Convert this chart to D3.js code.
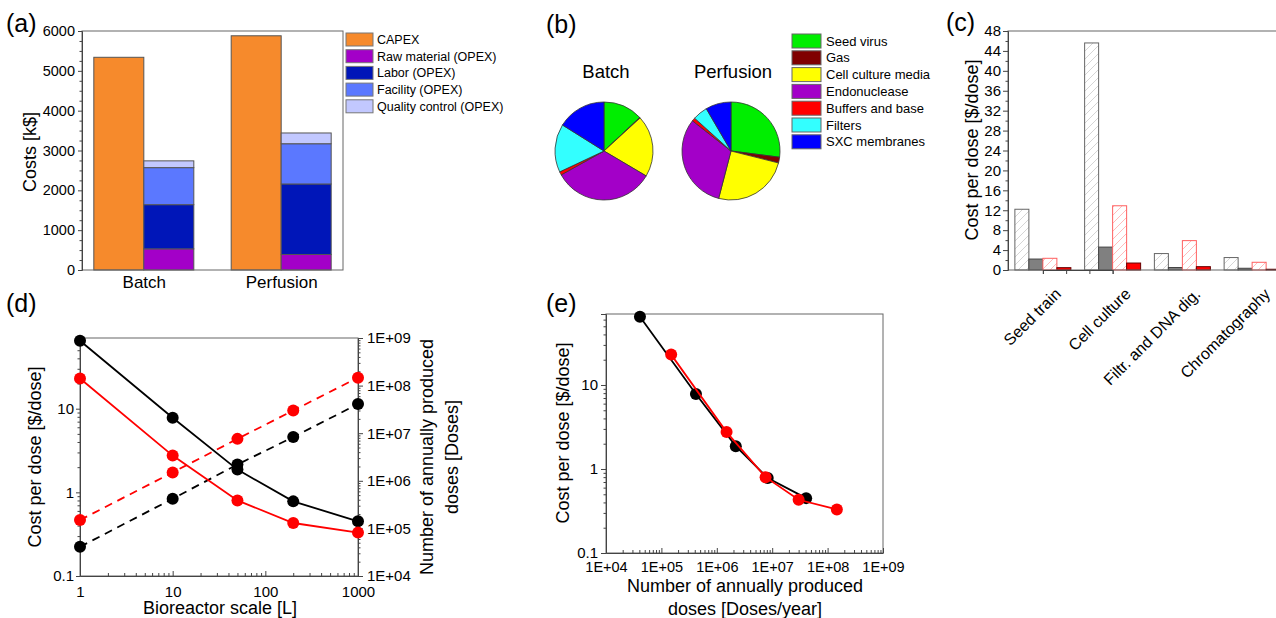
<!DOCTYPE html>
<html>
<head>
<meta charset="utf-8">
<script src="https://cdn.jsdelivr.net/npm/d3@7"></script>
<style>
html, body { margin: 0; padding: 0; background: #fff; overflow: hidden; }
svg { display: block; font-family: "Liberation Sans", Arial, sans-serif; }
</style>
</head>
<body>
<svg id="fig" width="1276" height="618"></svg>
<script>
// (a) costs [k$]
const costCategories = ['Batch', 'Perfusion'];
const capex = [5340, 5880];
const rawMaterial = [530, 390];
const labor = [1110, 1770];
const facility = [930, 1010];
const qualityControl = [170, 270];
const costLabels = ['CAPEX', 'Raw material (OPEX)', 'Labor (OPEX)', 'Facility (OPEX)', 'Quality control (OPEX)'];
const costTicks = [0, 1000, 2000, 3000, 4000, 5000, 6000];

// (b) raw material cost shares [%]
const rawItems = ['Seed virus', 'Gas', 'Cell culture media', 'Endonuclease', 'Buffers and base', 'Filters', 'SXC membranes'];
const batchShares = [13.0, 0.2, 20.3, 33.4, 1.1, 15.9, 16.1];
const perfusionShares = [27.0, 1.9, 25.1, 31.5, 1.1, 4.9, 8.4];

// (c) cost per dose per step [$/dose]
const stepCategories = ['Seed train', 'Cell culture', 'Filtr. and DNA dig.', 'Chromatography'];
const batchStepA = [12.2, 45.6, 3.3, 2.5];
const batchStepB = [2.2, 4.6, 0.5, 0.35];
const perfusionStepA = [2.35, 12.9, 5.9, 1.55];
const perfusionStepB = [0.47, 1.4, 0.67, 0.15];
const stepTicks = [0, 4, 8, 12, 16, 20, 24, 28, 32, 36, 40, 44, 48];

// (d), (e) scale-up
const reactorScale = [1, 10, 50, 200, 1000];
const batchCost = [65, 7.8, 1.87, 0.78, 0.45];
const perfusionCost = [23, 2.75, 0.80, 0.43, 0.33];
const batchDoses = [4.1e4, 4.2e5, 2.2e6, 8.3e6, 4.1e7];
const perfusionDoses = [1.5e5, 1.5e6, 7.6e6, 3.0e7, 1.47e8];

const costColors = ['#f68a2c', '#a300c8', '#0016b8', '#5b78ff', '#c2c8ff'];
const pieColors = ['#00ee00', '#800000', '#ffff00', '#a300c8', '#ff0000', '#33ffff', '#0000ff'];
const AXIS = '#444';
const FRAME = '#666';

const svg = d3.select('#fig');
const defs = svg.append('defs');

function panelLabel(text, x, y) {
  svg.append('text').attr('x', x).attr('y', y).attr('font-size', 25).text(text);
}

function styleAxis(g, size) {
  g.attr('font-family', null).attr('font-size', size);
  g.select('.domain').attr('stroke', AXIS);
  g.selectAll('.tick line').attr('stroke', AXIS);
  g.selectAll('.tick text').attr('fill', '#000');
  return g;
}

function minorAxis(axis, g, values, size) {
  g.call(axis.tickValues(values).tickSize(size).tickFormat(''));
  g.select('.domain').remove();
  g.selectAll('.tick line').attr('stroke', AXIS);
}

function logMinors(lo, hi) {
  const out = [];
  for (let e = Math.floor(Math.log10(lo)); e <= Math.ceil(Math.log10(hi)); e++) {
    for (let k = 2; k <= 9; k++) {
      const v = k * Math.pow(10, e);
      if (v >= lo && v <= hi) out.push(v);
    }
  }
  return out;
}

function rotatedTitle(text, x, y, size) {
  svg.append('text')
    .attr('transform', `translate(${x},${y}) rotate(-90)`)
    .attr('text-anchor', 'middle')
    .attr('font-size', size)
    .text(text);
}

function frame(L, R, T, B) {
  svg.append('rect').attr('x', L).attr('y', T).attr('width', R - L).attr('height', B - T)
    .attr('fill', 'none').attr('stroke', FRAME).attr('stroke-width', 1);
}

function drawCosts() {
  const L = 82, R = 343, T = 31, B = 270;
  const x = d3.scalePoint().domain(costCategories).range([L, R]).padding(0.45);
  const y = d3.scaleLinear().domain([0, 6000]).range([B, T]);
  const barW = 50;
  const g = svg.append('g');

  g.selectAll('rect.capex')
    .data(costCategories)
    .join('rect')
    .attr('class', 'capex')
    .attr('x', d => x(d) - barW)
    .attr('y', (d, i) => y(capex[i]))
    .attr('width', barW)
    .attr('height', (d, i) => y(0) - y(capex[i]))
    .attr('fill', costColors[0])
    .attr('stroke', '#555');

  const rows = costCategories.map((c, i) => ({
    cat: c, raw: rawMaterial[i], labor: labor[i], facility: facility[i], qc: qualityControl[i]
  }));
  const layers = d3.stack().keys(['raw', 'labor', 'facility', 'qc'])(rows);
  layers.forEach((layer, k) => {
    g.selectAll(`rect.opex${k}`)
      .data(layer)
      .join('rect')
      .attr('class', `opex${k}`)
      .attr('x', d => x(d.data.cat))
      .attr('y', d => y(d[1]))
      .attr('width', barW)
      .attr('height', d => y(d[0]) - y(d[1]))
      .attr('fill', costColors[k + 1])
      .attr('stroke', '#555');
  });

  frame(L, R, T, B);
  const ya = svg.append('g').attr('transform', `translate(${L},0)`);
  minorAxis(d3.axisLeft(y), ya, d3.range(0, 6001, 250).filter(v => v % 1000), 2.5);
  const yg = svg.append('g').attr('transform', `translate(${L},0)`)
    .call(d3.axisLeft(y).tickValues(costTicks).tickSize(4).tickPadding(3).tickFormat(d3.format('d')));
  styleAxis(yg, 14.5);
  const xg = svg.append('g').attr('transform', `translate(0,${B})`)
    .call(d3.axisBottom(x).tickSize(0).tickPadding(6));
  styleAxis(xg, 17);
  xg.select('.domain').remove();
  rotatedTitle('Costs [k$]', 36, 152, 18);

  const leg = svg.append('g');
  costLabels.forEach((label, i) => {
    const top = 33 + i * 16.7;
    leg.append('rect').attr('x', 346).attr('y', top).attr('width', 27).attr('height', 13)
      .attr('fill', costColors[i]).attr('stroke', '#777');
    leg.append('text').attr('x', 377).attr('y', top + 11).attr('font-size', 12.5).text(label);
  });
  panelLabel('(a)', 6, 32);
}

function drawPies() {
  const pie = d3.pie().sort(null).value(d => d);
  const arc = d3.arc().innerRadius(0).outerRadius(49);
  [[batchShares, 604, 'Batch'], [perfusionShares, 731, 'Perfusion']].forEach(([shares, cx, title]) => {
    const g = svg.append('g').attr('transform', `translate(${cx},151)`);
    g.selectAll('path')
      .data(pie(shares))
      .join('path')
      .attr('d', arc)
      .attr('fill', (d, i) => pieColors[i])
      .attr('stroke', '#333')
      .attr('stroke-width', 0.8);
    svg.append('text').attr('x', cx + 2).attr('y', 78).attr('text-anchor', 'middle')
      .attr('font-size', 18.5).text(title);
  });
  const leg = svg.append('g');
  rawItems.forEach((label, i) => {
    const top = 34 + i * 16.8;
    leg.append('rect').attr('x', 792).attr('y', top).attr('width', 29).attr('height', 14)
      .attr('fill', pieColors[i]).attr('stroke', '#666');
    leg.append('text').attr('x', 826).attr('y', top + 11.5).attr('font-size', 13).text(label);
  });
  panelLabel('(b)', 546, 33);
}

function hatch(id, color) {
  const p = defs.append('pattern').attr('id', id).attr('patternUnits', 'userSpaceOnUse')
    .attr('width', 8).attr('height', 8);
  p.append('rect').attr('width', 8).attr('height', 8).attr('fill', '#fff');
  p.append('path').attr('d', 'M-2,2 L2,-2 M0,8 L8,0 M6,10 L10,6')
    .attr('stroke', color).attr('stroke-width', 0.9);
}

function drawSteps() {
  const L = 1008, R = 1287, T = 31, B = 270;
  hatch('hatchGray', '#d0d0d0');
  hatch('hatchRed', '#ffb4b4');
  const x0 = d3.scaleBand().domain(stepCategories).range([L, R]);
  const x1 = d3.scaleBand().domain([0, 1, 2, 3]).range([-28, 28]);
  const y = d3.scaleLinear().domain([0, 48]).range([B, T]);
  const series = [
    { values: batchStepA, fill: 'url(#hatchGray)', stroke: '#666' },
    { values: batchStepB, fill: '#808080', stroke: '#444' },
    { values: perfusionStepA, fill: 'url(#hatchRed)', stroke: '#ff6060' },
    { values: perfusionStepB, fill: '#ff0000', stroke: '#660000' }
  ];
  const center = c => x0(c) + x0.bandwidth() / 2;
  series.forEach((s, k) => {
    svg.append('g').selectAll('rect')
      .data(stepCategories)
      .join('rect')
      .attr('x', c => center(c) + x1(k))
      .attr('y', (c, i) => y(s.values[i]))
      .attr('width', x1.bandwidth())
      .attr('height', (c, i) => y(0) - y(s.values[i]))
      .attr('fill', s.fill)
      .attr('stroke', s.stroke)
      .attr('stroke-width', 1);
  });

  frame(L, R, T, B);
  const ya = svg.append('g').attr('transform', `translate(${L},0)`);
  minorAxis(d3.axisLeft(y), ya, d3.range(2, 48, 4), 2.5);
  const yg = svg.append('g').attr('transform', `translate(${L},0)`)
    .call(d3.axisLeft(y).tickValues(stepTicks).tickSize(5).tickPadding(2));
  styleAxis(yg, 15);
  const xg = svg.append('g').attr('transform', `translate(0,${B})`);
  xg.call(d3.axisBottom(d3.scalePoint().domain(stepCategories).range(stepCategories.map(center)))
    .tickSize(4).tickFormat(''));
  styleAxis(xg, 15);
  svg.append('g').selectAll('text')
    .data(stepCategories)
    .join('text')
    .attr('transform', c => `translate(${center(c) + 11},287) rotate(-45)`)
    .attr('text-anchor', 'end')
    .attr('dy', '0.71em')
    .attr('font-size', 16)
    .text(c => c);
  rotatedTitle('Cost per dose [$/dose]', 978, 150, 18);
  panelLabel('(c)', 946, 31);
}

function logLabel(d) {
  return d >= 1 ? d3.format('d')(d) : String(d);
}

function expLabel(d) {
  return '1E+' + String(Math.round(Math.log10(d))).padStart(2, '0');
}

function drawScaleUp() {
  const L = 80, R = 358, T = 338, B = 576;
  const x = d3.scaleLog().domain([1, 1000]).range([L, R]);
  const yL = d3.scaleLog().domain([0.1, 70]).range([B, T]);
  const yR = d3.scaleLog().domain([1e4, 1e9]).range([B, T]);

  frame(L, R, T, B);
  minorAxis(d3.axisBottom(x), svg.append('g').attr('transform', `translate(0,${B})`), logMinors(1, 1000), -3);
  minorAxis(d3.axisLeft(yL), svg.append('g').attr('transform', `translate(${L},0)`), logMinors(0.1, 70), 2.5);
  minorAxis(d3.axisRight(yR), svg.append('g').attr('transform', `translate(${R},0)`), logMinors(1e4, 1e9), 2.5);
  styleAxis(svg.append('g').attr('transform', `translate(0,${B})`)
    .call(d3.axisBottom(x).tickValues([1, 10, 100, 1000]).tickSizeInner(-5).tickSizeOuter(0).tickPadding(10).tickFormat(logLabel)), 15);
  styleAxis(svg.append('g').attr('transform', `translate(${L},0)`)
    .call(d3.axisLeft(yL).tickValues([0.1, 1, 10]).tickSize(4).tickPadding(2).tickFormat(logLabel)), 15);
  styleAxis(svg.append('g').attr('transform', `translate(${R},0)`)
    .call(d3.axisRight(yR).tickValues([1e4, 1e5, 1e6, 1e7, 1e8, 1e9]).tickSize(5).tickPadding(4).tickFormat(expLabel)), 15);

  const costLine = d3.line().x((d, i) => x(reactorScale[i])).y(d => yL(d));
  const doseLine = d3.line().x((d, i) => x(reactorScale[i])).y(d => yR(d));
  const sets = [
    { values: batchCost, line: costLine, scale: yL, color: '#000', dash: null },
    { values: batchDoses, line: doseLine, scale: yR, color: '#000', dash: '8,6' },
    { values: perfusionCost, line: costLine, scale: yL, color: '#ff0000', dash: null },
    { values: perfusionDoses, line: doseLine, scale: yR, color: '#ff0000', dash: '8,6' }
  ];
  sets.forEach(s => {
    svg.append('path').datum(s.values)
      .attr('d', s.line)
      .attr('fill', 'none')
      .attr('stroke', s.color)
      .attr('stroke-width', 1.8)
      .attr('stroke-dasharray', s.dash);
    svg.append('g').selectAll('circle')
      .data(s.values)
      .join('circle')
      .attr('cx', (d, i) => x(reactorScale[i]))
      .attr('cy', d => s.scale(d))
      .attr('r', 6)
      .attr('fill', s.color);
  });

  rotatedTitle('Cost per dose [$/dose]', 41, 457, 18);
  rotatedTitle('Number of annually produced', 433, 457, 18);
  rotatedTitle('doses [Doses]', 458, 457, 18);
  svg.append('text').attr('x', 220).attr('y', 614).attr('text-anchor', 'middle')
    .attr('font-size', 18).text('Bioreactor scale [L]');
  panelLabel('(d)', 6, 312);
}

function drawDoses() {
  const L = 606, R = 883, T = 314, B = 553;
  const x = d3.scaleLog().domain([1e4, 1e9]).range([L, R]);
  const y = d3.scaleLog().domain([0.1, 70]).range([B, T]);

  frame(L, R, T, B);
  minorAxis(d3.axisBottom(x), svg.append('g').attr('transform', `translate(0,${B})`), logMinors(1e4, 1e9), -3);
  minorAxis(d3.axisLeft(y), svg.append('g').attr('transform', `translate(${L},0)`), logMinors(0.1, 70), 2.5);
  styleAxis(svg.append('g').attr('transform', `translate(0,${B})`)
    .call(d3.axisBottom(x).tickValues([1e4, 1e5, 1e6, 1e7, 1e8, 1e9]).tickSizeInner(-5).tickSizeOuter(0).tickPadding(9).tickFormat(expLabel)), 14.5);
  styleAxis(svg.append('g').attr('transform', `translate(${L},0)`)
    .call(d3.axisLeft(y).tickValues([0.1, 1, 10]).tickSize(5).tickPadding(3).tickFormat(logLabel)), 15);

  const sets = [
    { doses: batchDoses, cost: batchCost, color: '#000' },
    { doses: perfusionDoses, cost: perfusionCost, color: '#ff0000' }
  ];
  sets.forEach(s => {
    const line = d3.line().x((d, i) => x(s.doses[i])).y(d => y(d));
    svg.append('path').datum(s.cost)
      .attr('d', line)
      .attr('fill', 'none')
      .attr('stroke', s.color)
      .attr('stroke-width', 1.8);
    svg.append('g').selectAll('circle')
      .data(s.cost)
      .join('circle')
      .attr('cx', (d, i) => x(s.doses[i]))
      .attr('cy', d => y(d))
      .attr('r', 6)
      .attr('fill', s.color);
  });

  rotatedTitle('Cost per dose [$/dose]', 569, 433, 18);
  svg.append('text').attr('x', 745).attr('y', 592).attr('text-anchor', 'middle')
    .attr('font-size', 18).text('Number of annually produced');
  svg.append('text').attr('x', 745).attr('y', 615).attr('text-anchor', 'middle')
    .attr('font-size', 18).text('doses [Doses/year]');
  panelLabel('(e)', 546, 312);
}

drawCosts();
drawPies();
drawSteps();
drawScaleUp();
drawDoses();
</script>
</body>
</html>
